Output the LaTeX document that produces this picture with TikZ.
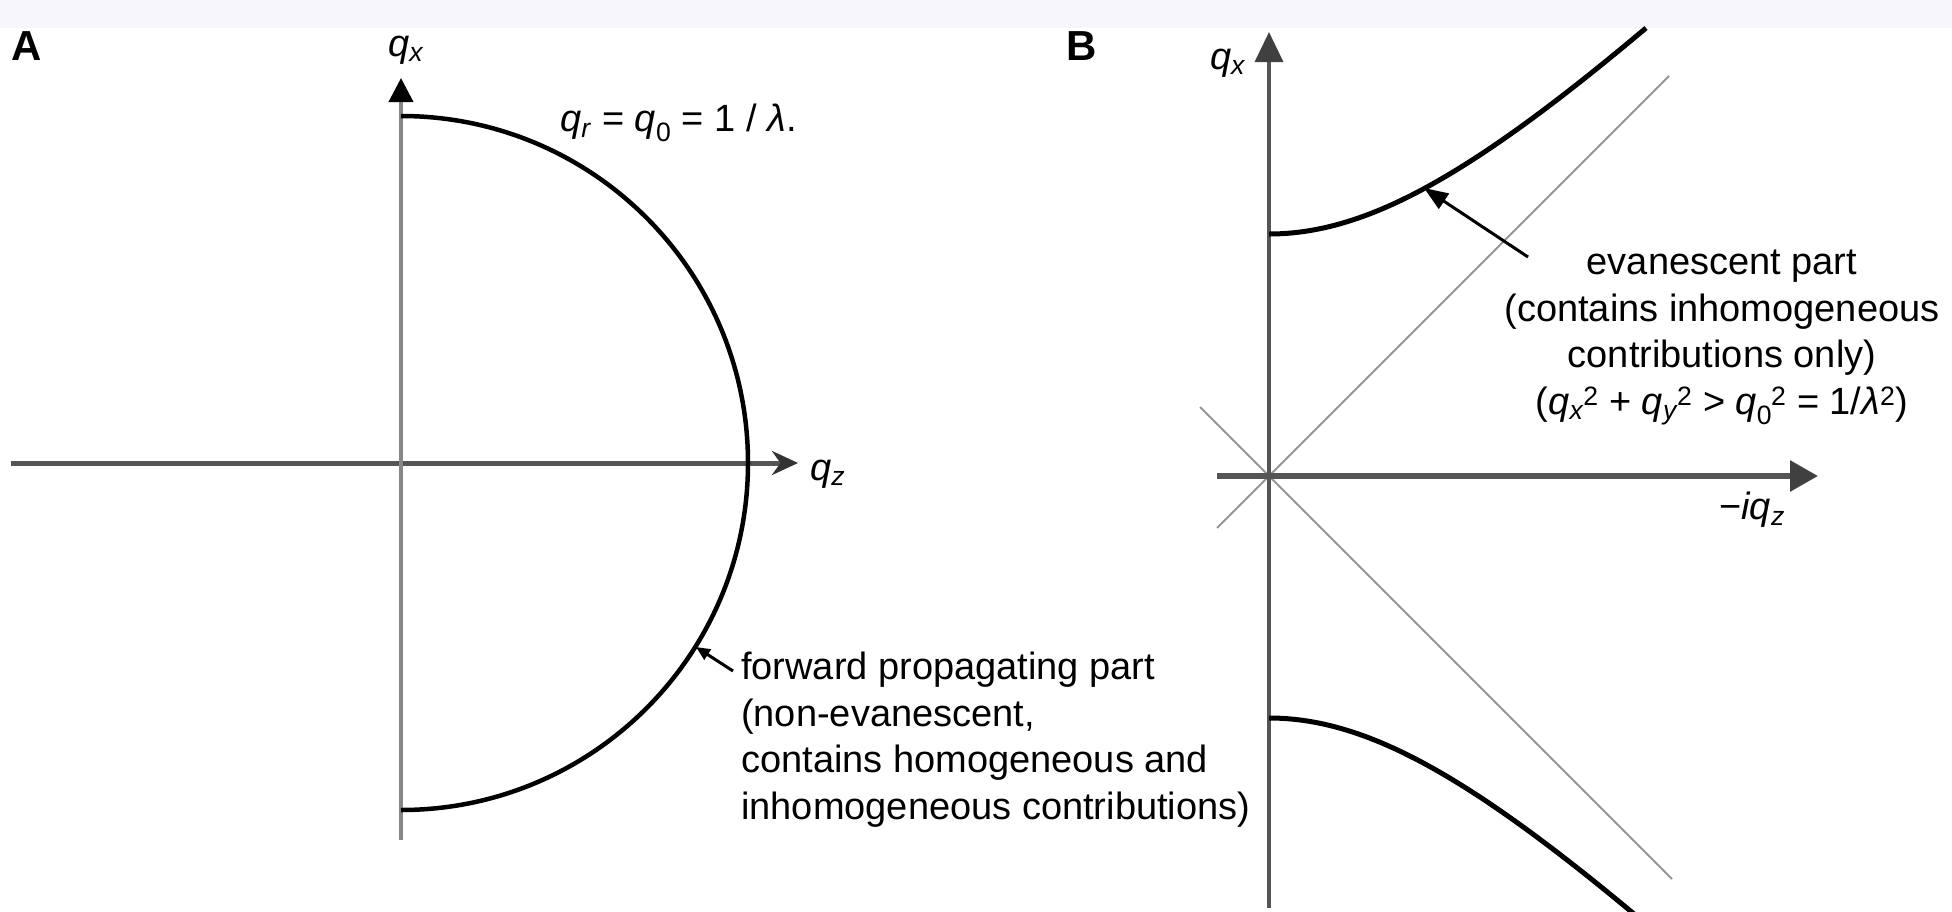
\documentclass[tikz,border=0pt]{standalone}
\usepackage{fontspec}
\setmainfont{Liberation Sans}
\usetikzlibrary{arrows.meta}
\definecolor{bandcol}{RGB}{247,247,251}
\definecolor{axdark}{RGB}{85,85,85}
\definecolor{axlight}{RGB}{135,135,135}
\definecolor{asym}{RGB}{150,150,150}
\newcommand{\myq}[1]{\textit{q}\textsubscript{\textit{#1}}}
\newcommand{\myqq}[2]{\textit{q}\textsubscript{\textit{#1}}\kern-1pt\textsuperscript{#2}}
\newcommand{\myqz}[2]{\textit{q}\textsubscript{#1}\kern-1pt\textsuperscript{#2}}
\begin{document}
\begin{tikzpicture}[x=1pt,y=-1pt,
  txt/.style={font=\fontsize{38}{46.5}\selectfont, inner sep=0pt},
  panel/.style={font=\fontsize{42}{44}\selectfont\bfseries, inner sep=0pt},
  axA/.style={line width=5pt, draw=axdark, -{Stealth[length=26pt,width=24pt,color=black!80]}},
  axAv/.style={line width=4pt, draw=axlight, -{Triangle[length=24pt,width=24pt,color=black]}},
  axBv/.style={line width=3.5pt, draw=axdark, -{Triangle[length=30pt,width=28pt,color=black!75]}},
  axBh/.style={line width=6pt, draw=axdark, -{Triangle[length=28pt,width=30pt,color=black!75]}},
  curve/.style={line width=4.5pt, black},
  asy/.style={line width=2pt, draw=asym},
  pointer/.style={line width=3pt, black}
]
\useasboundingbox (0,0) rectangle (1952,911);
\fill[white] (0,0) rectangle (1952,911);
\fill[bandcol] (0,0) rectangle (1952,28);

% ---------- Panel A ----------
\node[panel] (labA) at (27,46) {A};
\coordinate (oA) at (401,463);
\coordinate (axAleft) at (11,463);
\coordinate (axAright) at (798,463);
\coordinate (axAbot) at (401,840);
\coordinate (axAtop) at (401,78);
\draw[axA] (axAleft) -- (axAright);
\draw[axAv] (axAbot) -- (axAtop);
\draw[curve] (401,116) arc[start angle=-90, end angle=90, radius=347];
\node[txt, anchor=west] (qxA) at (388,50) {\myq{x}};
\node[txt, anchor=west] (qzA) at (810,474) {\myq{z}};
\node[txt, anchor=west] (qrA) at (560,123) {\myq{r} = \textit{q}\textsubscript{0} = 1 / \textit{λ}.};
\node[txt, anchor=north west, align=left] (fwd) at (741,652)
  {forward propagating part\\(non-evanescent,\\contains homogeneous and\\inhomogeneous contributions)};
\coordinate (tailA) at (733,671);
\coordinate (tipA) at (696,647);
\draw[pointer, -{Triangle[length=14pt,width=12pt]}] (tailA) -- (tipA);

% ---------- Panel B ----------
\node[panel] (labB) at (1082,46) {B};
\coordinate (oB) at (1269,476);
\coordinate (axBbot) at (1269,908);
\coordinate (axBtop) at (1269,32);
\coordinate (axBleft) at (1217,476);
\coordinate (axBright) at (1818,476);
\draw[asy] (1217,528) -- (1669,76);
\draw[asy] (1200,407) -- (1672,879);
\draw[axBv] (axBbot) -- (axBtop);
\draw[axBh] (axBleft) -- (axBright);
\draw[curve, line width=5pt] plot[domain=0:377, samples=80, smooth] ({1269+\x},{476-100*sqrt(2.42*2.42+(\x/100)*(\x/100))});
\draw[curve, line width=5pt] plot[domain=0:370, samples=80, smooth] ({1269+\x},{476+100*sqrt(2.42*2.42+(\x/100)*(\x/100))});
\node[txt, anchor=east] (qxB) at (1246,63) {\myq{x}};
\node[txt, anchor=center] (iqz) at (1752,510) {−\textit{iq}\textsubscript{\textit{z}}};
\node[txt, anchor=north, align=center] (eva) at (1722,250)
  {evanescent part\\(contains inhomogeneous\\contributions only)\\(\myqq{x}{2} + \myqq{y}{2} > \myqz{0}{2} = 1/\textit{λ}\textsuperscript{2})};
\coordinate (tailB) at (1528,257);
\coordinate (tipB) at (1424,188);
\draw[pointer, -{Triangle[length=24pt,width=18pt]}] (tailB) -- (tipB);
\end{tikzpicture}
\end{document}
